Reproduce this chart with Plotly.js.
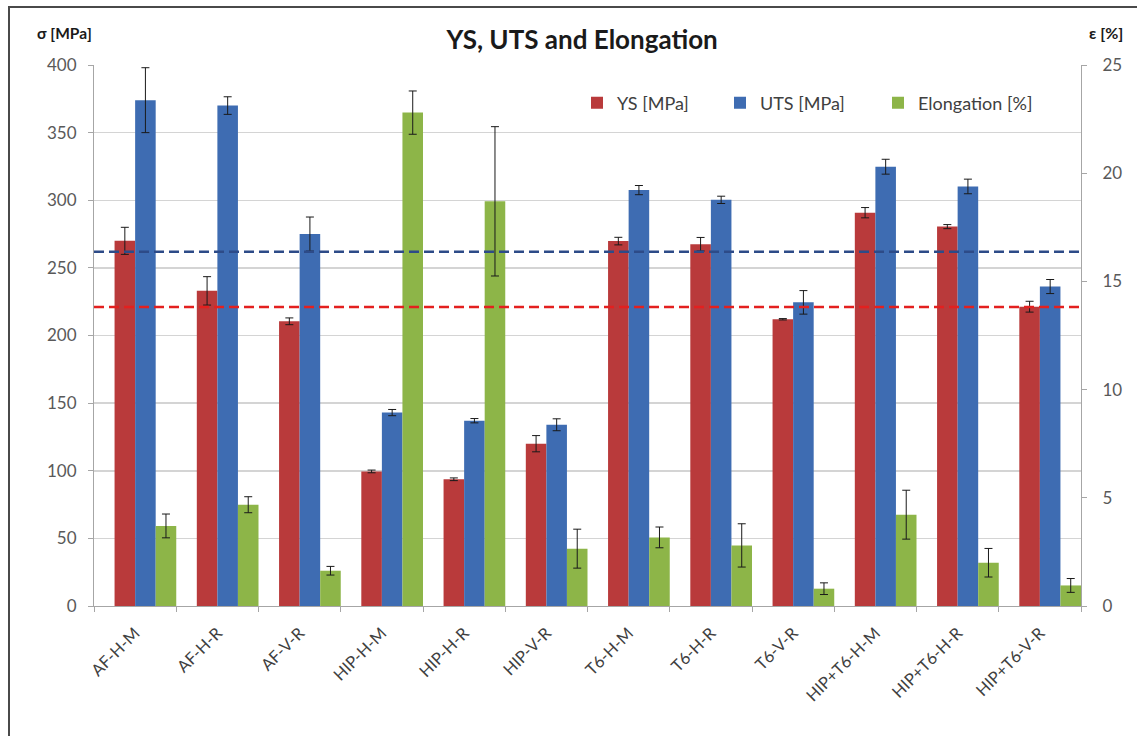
<!DOCTYPE html>
<html>
<head>
<meta charset="utf-8">
<script src="https://cdn.plot.ly/plotly-3.0.1.min.js"></script>
<style>
  html, body { margin: 0; padding: 0; background: #ffffff; }
  #wrap { position: relative; width: 1137px; height: 736px; overflow: hidden; }
  #chart { width: 1137px; height: 736px; }
  #frame { position: absolute; left: 8px; top: 6px; width: 1200px; height: 800px;
           border-left: 2px solid #4a4a4a; border-top: 2px solid #4a4a4a; pointer-events: none; }
</style>
</head>
<body>
<div id="wrap">
  <div id="chart"></div>
  <div id="frame"></div>
</div>
<script>
const categories = ["AF-H-M", "AF-H-R", "AF-V-R", "HIP-H-M", "HIP-H-R", "HIP-V-R",
                    "T6-H-M", "T6-H-R", "T6-V-R", "HIP+T6-H-M", "HIP+T6-H-R", "HIP+T6-V-R"];
const ysValues   = [270, 233, 210.5, 99.5, 93.7, 120, 269.8, 267.5, 212, 290.8, 280.5, 221.3];
const ysErrors   = [10, 10.5, 2.5, 1, 1, 6, 2.8, 5, 0.5, 3.8, 1.5, 4];
const utsValues  = [374, 370, 275, 143, 137, 134, 307.5, 300.3, 224.5, 324.8, 310.2, 236.2];
const utsErrors  = [24, 6.5, 12.6, 2.3, 1.6, 4.4, 3.4, 2.7, 8.7, 5.5, 5.4, 5.2];
const elongValues = [3.7, 4.68, 1.63, 22.8, 18.7, 2.65, 3.17, 2.8, 0.8, 4.22, 2.0, 0.95];
const elongErrors = [0.55, 0.37, 0.2, 1.0, 3.45, 0.9, 0.48, 1.0, 0.27, 1.13, 0.66, 0.32];
const utsReference = 262;
const ysReference = 221;
const leftTicks = [0, 50, 100, 150, 200, 250, 300, 350, 400];
const rightTicks = [0, 5, 10, 15, 20, 25];

const FONT = "Lato, 'Open Sans', sans-serif";
const errStyle = { type: 'data', visible: true, color: '#1a1a1a', thickness: 1, width: 4 };

const traces = [
  { type: 'bar', name: 'YS [MPa]', x: categories, y: ysValues,
    error_y: Object.assign({ array: ysErrors }, errStyle),
    marker: { color: '#b93a3b' }, width: 0.25, offset: -0.25, legend: 'legend' },
  { type: 'bar', name: 'UTS [MPa]', x: categories, y: utsValues,
    error_y: Object.assign({ array: utsErrors }, errStyle),
    marker: { color: '#3e6cb2' }, width: 0.25, offset: 0, legend: 'legend2' },
  { type: 'bar', name: 'Elongation [%]', x: categories, y: elongValues, yaxis: 'y2',
    error_y: Object.assign({ array: elongErrors }, errStyle),
    marker: { color: '#8db548' }, width: 0.25, offset: 0.25, legend: 'legend3' }
];

const legendBase = { orientation: 'h', xref: 'container', yref: 'container',
  xanchor: 'left', yanchor: 'middle', y: 1 - 103 / 736,
  font: { family: FONT, size: 18, color: '#404040' }, bgcolor: 'rgba(0,0,0,0)' };

const layout = {
  width: 1137, height: 736,
  margin: { l: 94, r: 56, t: 65, b: 130, pad: 0, autoexpand: false },
  paper_bgcolor: '#ffffff', plot_bgcolor: '#ffffff',
  font: { family: FONT, color: '#404040' },
  barmode: 'overlay',
  showlegend: true,
  title: { text: '<b>YS, UTS and Elongation</b>', x: 0.512, xanchor: 'center',
           y: 1 - 40 / 736, yanchor: 'middle',
           font: { family: FONT, size: 26, color: '#1a1a1a' } },
  legend: Object.assign({}, legendBase, { x: 577 / 1137 }),
  legend2: Object.assign({}, legendBase, { x: 720 / 1137 }),
  legend3: Object.assign({}, legendBase, { x: 878 / 1137 }),
  xaxis: { type: 'category', tickson: 'boundaries', ticks: 'outside', ticklen: 5,
           tickcolor: '#a6a6a6', showline: true, linecolor: '#a6a6a6', linewidth: 1,
           showgrid: false, tickangle: -45, ticklabelstandoff: 10, automargin: false,
           tickfont: { family: FONT, size: 16.5, color: '#404040' }, fixedrange: true },
  yaxis: { range: [0, 400], tickvals: leftTicks, ticks: 'outside', ticklen: 5,
           tickcolor: '#a6a6a6', showline: true, linecolor: '#a6a6a6', linewidth: 1,
           gridcolor: '#d4d4d4', gridwidth: 1.5, zeroline: false, ticklabelstandoff: 8,
           automargin: false,
           tickfont: { family: FONT, size: 17, color: '#595959' }, fixedrange: true },
  yaxis2: { range: [0, 25], tickvals: rightTicks, overlaying: 'y', side: 'right',
            ticks: 'outside', ticklen: 5, tickcolor: '#a6a6a6', showline: true,
            linecolor: '#a6a6a6', linewidth: 1, showgrid: false, zeroline: false,
            ticklabelstandoff: 12, automargin: false,
            tickfont: { family: FONT, size: 17, color: '#595959' }, fixedrange: true },
  shapes: [
    { type: 'line', xref: 'paper', x0: 0, x1: 1, yref: 'y', y0: utsReference, y1: utsReference,
      line: { color: '#2d4b88', width: 2.5, dash: '10px,5px' } },
    { type: 'line', xref: 'paper', x0: 0, x1: 1, yref: 'y', y0: ysReference, y1: ysReference,
      line: { color: '#e3201f', width: 2.5, dash: '10px,5px' } }
  ],
  annotations: [
    { text: '<b>σ [MPa]</b>', xref: 'paper', yref: 'paper', x: (35 - 94) / 987, y: 1 + (65 - 33) / 541,
      xanchor: 'left', yanchor: 'middle', showarrow: false,
      font: { family: FONT, size: 15.5, color: '#1a1a1a' } },
    { text: '<b>ε [%]</b>', xref: 'paper', yref: 'paper', x: (1087 - 94) / 987, y: 1 + (65 - 33) / 541,
      xanchor: 'left', yanchor: 'middle', showarrow: false,
      font: { family: FONT, size: 16, color: '#1a1a1a' } }
  ]
};

Plotly.newPlot('chart', traces, layout, { displayModeBar: false, staticPlot: true });
</script>
</body>
</html>
